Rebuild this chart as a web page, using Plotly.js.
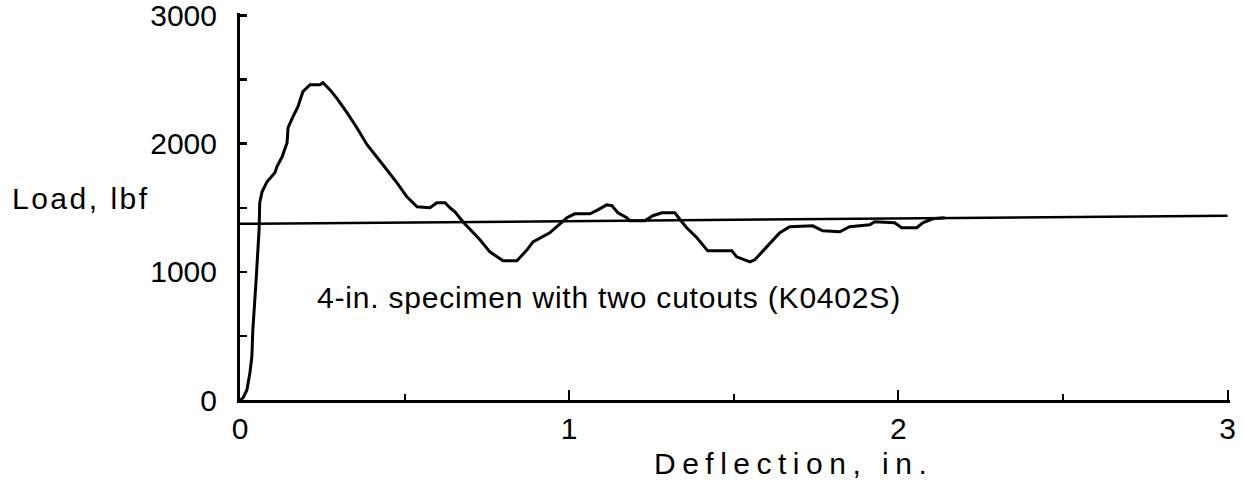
<!DOCTYPE html>
<html>
<head>
<meta charset="utf-8">
<script src="https://cdn.plot.ly/plotly-3.0.1.min.js"></script>
<style>html,body{margin:0;padding:0;background:#fff;}#chart{width:1244px;height:488px;}</style>
</head>
<body>
<div id="chart"></div>
<script>
// Load-deflection curve (K0402S)
const deflection = [0, 0.009, 0.021, 0.030, 0.036, 0.039, 0.049, 0.058, 0.060, 0.067, 0.082, 0.106, 0.112, 0.128, 0.143, 0.146, 0.161, 0.176, 0.191, 0.213, 0.243, 0.252, 0.273, 0.295, 0.325, 0.355, 0.386, 0.416, 0.446, 0.477, 0.507, 0.538, 0.577, 0.598, 0.623, 0.638, 0.653, 0.677, 0.708, 0.729, 0.759, 0.799, 0.841, 0.872, 0.890, 0.911, 0.941, 0.972, 0.993, 1.017, 1.063, 1.087, 1.114, 1.130, 1.148, 1.175, 1.184, 1.230, 1.254, 1.282, 1.321, 1.342, 1.357, 1.388, 1.421, 1.494, 1.509, 1.549, 1.564, 1.600, 1.640, 1.670, 1.740, 1.770, 1.822, 1.852, 1.913, 1.928, 1.989, 2.010, 2.056, 2.074, 2.104, 2.141];
const load = [0, 16, 78, 211, 336, 547, 938, 1328, 1539, 1625, 1703, 1773, 1820, 1898, 2008, 2125, 2211, 2289, 2406, 2461, 2461, 2477, 2422, 2352, 2242, 2125, 1992, 1898, 1797, 1695, 1586, 1508, 1500, 1539, 1539, 1500, 1469, 1391, 1305, 1250, 1156, 1086, 1086, 1172, 1234, 1266, 1305, 1375, 1422, 1453, 1453, 1484, 1523, 1516, 1461, 1422, 1398, 1398, 1438, 1461, 1461, 1391, 1344, 1266, 1164, 1164, 1117, 1078, 1094, 1195, 1305, 1352, 1359, 1320, 1313, 1352, 1367, 1391, 1383, 1344, 1344, 1383, 1414, 1422];
// Reference (average) load line
const refDeflection = [0, 3];
const refLoad = [1375, 1437];
// Axis ticks
const xTickVals = [0, 1, 2, 3];
const xTickText = ["0", "1", "2", "3"];
const yTickVals = [0, 1000, 2000, 3000];
const yTickText = ["0", "1000", "2000", "3000"];
// Texts
const yLabel = "Load, lbf";
const xLabel = "Deflection, in.";
const noteText = "4-in. specimen with two cutouts (K0402S)";

const FONT = "Liberation Sans, Arial, Helvetica, sans-serif";
const FS = 30;

const traces = [
  {x: refDeflection, y: refLoad, mode: "lines", line: {color: "#000", width: 2.5}, hoverinfo: "skip"},
  {x: deflection, y: load, mode: "lines", line: {color: "#000", width: 3, shape: "linear"}}
];

const layout = {
  width: 1244, height: 488,
  margin: {l: 240, r: 13.6, t: 13.4, b: 88},
  paper_bgcolor: "#fff", plot_bgcolor: "#fff",
  showlegend: false,
  font: {family: FONT, size: FS, color: "#000"},
  xaxis: {
    range: [0, 3.0075], showgrid: false, zeroline: false,
    showline: true, linecolor: "#000", linewidth: 3,
    ticks: "inside", ticklen: 10, tickwidth: 2, tickcolor: "#000",
    tickvals: xTickVals, ticktext: xTickText,
    minor: {dtick: 0.5, ticks: "inside", ticklen: 6, tickwidth: 2, tickcolor: "#000"},
    tickfont: {family: FONT, size: FS, color: "#000"},
    ticklabeloverflow: "allow",
    ticklabelstandoff: 0
  },
  yaxis: {
    range: [0, 3020], showgrid: false, zeroline: false,
    showline: true, linecolor: "#000", linewidth: 3,
    ticks: "inside", ticklen: 7, tickwidth: 2.5, tickcolor: "#000",
    tickvals: yTickVals, ticktext: yTickText,
    minor: {dtick: 500, ticks: "inside", ticklen: 7, tickwidth: 2.5, tickcolor: "#000"},
    tickfont: {family: FONT, size: FS, color: "#000"},
    ticklabeloverflow: "allow",
    ticklabelstandoff: 14
  },
  annotations: [
    {text: yLabel, xref: "paper", yref: "paper", x: -0.2323, y: 0.521, xanchor: "left", yanchor: "middle", align: "left", showarrow: false, font: {family: FONT, size: FS, color: "#000"}},
    {text: xLabel, xref: "x", yref: "paper", x: 1.251, y: -0.163, xanchor: "left", yanchor: "middle", align: "left", showarrow: false, font: {family: FONT, size: FS, color: "#000"}},
    {text: noteText, xref: "x", yref: "y", x: 0.228, y: 800, xanchor: "left", yanchor: "middle", align: "left", showarrow: false, font: {family: FONT, size: FS, color: "#000"}}
  ]
};

const spacing = ["2.5px", "6.5px", "0.8px"];
Plotly.newPlot("chart", traces, layout, {displayModeBar: false, staticPlot: true}).then(function (gd) {
  const texts = gd.querySelectorAll(".annotation-text");
  texts.forEach(function (t, i) { if (spacing[i]) t.style.letterSpacing = spacing[i]; });
});
</script>
</body>
</html>
